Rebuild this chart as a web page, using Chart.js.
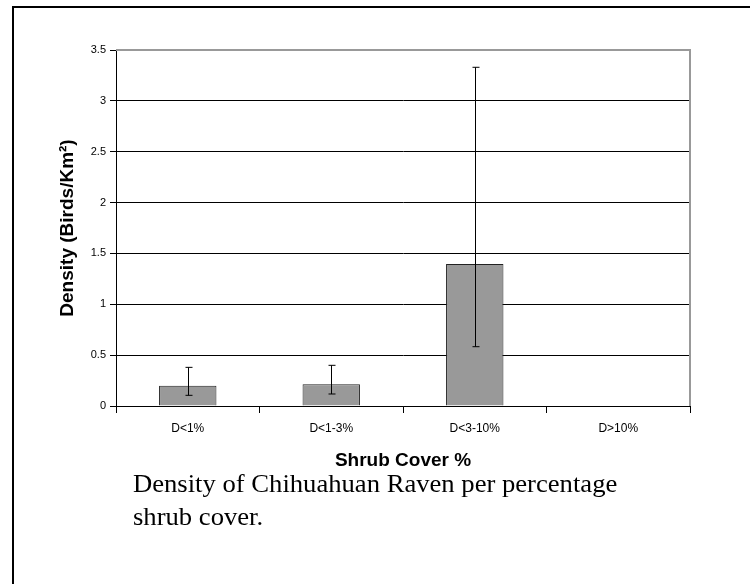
<!DOCTYPE html>
<html lang="en">
<head>
    <meta charset="UTF-8">
    <title>Density of Chihuahuan Raven</title>
    <script src="https://cdn.jsdelivr.net/npm/chart.js"></script>
    <style>
        body {
            margin: 0;
            background: #fff;
            width: 750px;
            height: 584px;
            overflow: hidden;
            position: relative;
        }
        #frame {
            position: absolute;
            left: 12px;
            top: 6px;
            width: 760px;
            height: 600px;
            border-left: 2px solid #000;
            border-top: 2px solid #000;
        }
        #chart {
            position: absolute;
            left: 0;
            top: 0;
        }
        #caption {
            position: absolute;
            left: 133px;
            top: 467px;
            font-family: "Liberation Serif", "Times New Roman", serif;
            font-size: 25px;
            line-height: 33px;
            color: #000;
            transform: scaleX(1.065);
            transform-origin: left top;
            white-space: nowrap;
        }
    </style>
</head>
<body>
    <div id="frame"></div>
    <canvas id="chart" width="750" height="584"></canvas>
    <div id="caption">Density of Chihuahuan Raven per percentage<br>shrub cover.</div>

    <script>
        // data
        const categories = ["D<1%", "D<1-3%", "D<3-10%", "D>10%"];
        const density = [0.2, 0.215, 1.395, 0];
        const errLow = [0.105, 0.118, 0.583, null];
        const errHigh = [0.38, 0.40, 3.33, null];

        // error bars + gray top/right frame of the plot area
        const errorBarPlugin = {
            id: 'errorBars',
            afterDatasetsDraw(chart) {
                const ctx = chart.ctx;
                const x = chart.scales.x;
                const y = chart.scales.y;
                ctx.save();
                ctx.strokeStyle = '#000';
                ctx.lineWidth = 1;
                for (let i = 0; i < categories.length; i++) {
                    if (errLow[i] === null) continue;
                    const px = Math.round(x.getPixelForValue(i)) + 0.5;
                    const top = y.getPixelForValue(errHigh[i]);
                    const bot = y.getPixelForValue(errLow[i]);
                    ctx.beginPath();
                    ctx.moveTo(px, top);
                    ctx.lineTo(px, bot);
                    ctx.moveTo(px - 3, top);
                    ctx.lineTo(px + 4, top);
                    ctx.moveTo(px - 3, bot);
                    ctx.lineTo(px + 4, bot);
                    ctx.stroke();
                }
                const a = chart.chartArea;
                ctx.strokeStyle = '#999';
                ctx.lineWidth = 2;
                ctx.beginPath();
                ctx.moveTo(a.left, a.top);
                ctx.lineTo(a.right, a.top);
                ctx.lineTo(a.right, a.bottom);
                ctx.stroke();
                ctx.restore();
            }
        };

        const ctx = document.getElementById('chart').getContext('2d');
        new Chart(ctx, {
            type: 'bar',
            data: {
                labels: categories,
                datasets: [{
                    data: density,
                    backgroundColor: '#999999',
                    borderColor: '#222',
                    borderWidth: 1,
                    barPercentage: 0.4,
                    categoryPercentage: 1.0
                }]
            },
            options: {
                responsive: false,
                animation: false,
                layout: {
                    padding: { left: 52, top: 50, right: 60, bottom: 110 }
                },
                plugins: {
                    legend: { display: false },
                    tooltip: { enabled: false }
                },
                scales: {
                    x: {
                        grid: {
                            drawOnChartArea: false,
                            drawTicks: true,
                            tickLength: 7,
                            color: '#000'
                        },
                        border: { color: '#000', width: 1 },
                        ticks: {
                            color: '#000',
                            padding: 8,
                            font: { family: 'Liberation Sans, Arial, sans-serif', size: 12 }
                        },
                        title: {
                            display: true,
                            text: 'Shrub Cover %',
                            color: '#000',
                            padding: 2,
                            font: { family: 'Liberation Sans, Arial, sans-serif', size: 19, weight: 'bold' }
                        },
                        afterFit(scale) { scale.height = 68; }
                    },
                    y: {
                        min: 0,
                        max: 3.5,
                        ticks: {
                            stepSize: 0.5,
                            color: '#000',
                            padding: 4,
                            font: { family: 'Liberation Sans, Arial, sans-serif', size: 11 },
                            callback: (v) => String(v)
                        },
                        grid: {
                            color: '#000',
                            lineWidth: 1,
                            tickLength: 6
                        },
                        border: { color: '#000', width: 1 },
                        title: {
                            display: true,
                            text: 'Density (Birds/Km²)',
                            color: '#000',
                            padding: 4,
                            font: { family: 'Liberation Sans, Arial, sans-serif', size: 19, weight: 'bold' }
                        },
                        afterFit(scale) { scale.width = 64; }
                    }
                }
            },
            plugins: [errorBarPlugin]
        });
    </script>
</body>
</html>
